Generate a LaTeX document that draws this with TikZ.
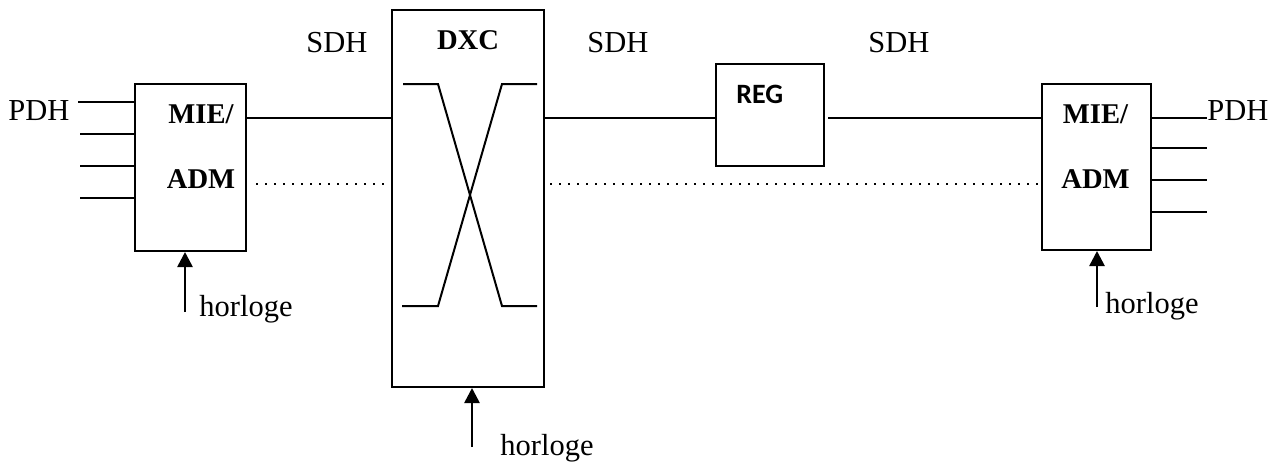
\documentclass[tikz,border=0pt]{standalone}
\usepackage{fontspec}
\setmainfont{Liberation Serif}
\newfontfamily\regfont{Carlito}
\usetikzlibrary{arrows.meta}
\begin{document}
\begin{tikzpicture}[x=0.5pt,y=-0.5pt,
  ln/.style={line width=1pt},
  dotln/.style={line width=1.2pt,dash pattern=on 1pt off 3.5pt},
  blk/.style={draw,line width=1pt,rectangle,inner sep=0pt},
  txt/.style={inner sep=0pt,font=\fontsize{15.25pt}{18pt}\selectfont},
  btxt/.style={inner sep=0pt,font=\fontsize{14.3pt}{17pt}\selectfont\bfseries},
  clk/.style={line width=1.3pt,-{Triangle[length=7.5pt,width=7.5pt]}}]
\useasboundingbox (0,0) rectangle (1284,461);
% boxes
\node[blk,minimum width=55.5pt,minimum height=83.5pt] (lb) at (190.5,167.5) {};
\node[blk,minimum width=76pt,minimum height=188.5pt] (dxc) at (468,198.5) {};
\node[blk,minimum width=54pt,minimum height=51pt] (reg) at (770,115) {};
\node[blk,minimum width=54.5pt,minimum height=83pt] (rb) at (1096.5,167) {};
% labels in boxes
\node[btxt,anchor=base] (lmie) at (201,123) {MIE/};
\node[btxt,anchor=base] (ladm) at (201,188) {ADM};
\node[btxt,anchor=base] (rmie) at (1095.5,123) {MIE/};
\node[btxt,anchor=base] (radm) at (1095.5,188) {ADM};
\node[btxt,anchor=base] (dxclab) at (468,49) {DXC};
\node[inner sep=0pt,anchor=base west,font=\fontsize{14pt}{16pt}\selectfont\regfont\bfseries] (reglab) at (736,103) {REG};
% SDH labels
\node[txt,anchor=base west] (sdh1) at (306,52) {SDH};
\node[txt,anchor=base west] (sdh2) at (587,52) {SDH};
\node[txt,anchor=base west] (sdh3) at (868,52) {SDH};
% PDH labels
\node[txt,anchor=base west] (pdhl) at (8,120) {PDH};
\node[txt,anchor=base west] (pdhr) at (1207,120) {PDH};
% horloge labels
\node[txt,anchor=base west] (hl) at (199,316) {horloge};
\node[txt,anchor=base west] (hm) at (500,455) {horloge};
\node[txt,anchor=base west] (hr) at (1105,313) {horloge};
% y levels
\coordinate (ys) at (0,118);
% solid links
\draw[ln] (lb.east |- ys) -- (dxc.west |- ys);
\draw[ln] (dxc.east |- ys) -- (reg.west |- ys);
\coordinate (regout) at (828,118);
\draw[ln] (regout) -- (rb.west |- ys);
% dotted links
\coordinate (d1a) at (256,184);
\coordinate (d1b) at (389,184);
\coordinate (d2a) at (550,184);
\coordinate (d2b) at (1038,184);
\draw[dotln] (d1a) -- (d1b);
\draw[dotln] (d2a) -- (d2b);
% PDH tributaries left
\coordinate (pl1) at (78,102);
\coordinate (pl2) at (80,134);
\coordinate (pl3) at (80,166);
\coordinate (pl4) at (80,198);
\foreach \p in {pl1,pl2,pl3,pl4} \draw[ln] (\p) -- (lb.west |- \p);
% PDH tributaries right
\coordinate (pr1) at (1207,118);
\coordinate (pr2) at (1207,148);
\coordinate (pr3) at (1207,180);
\coordinate (pr4) at (1207,212);
\foreach \p in {pr1,pr2,pr3,pr4} \draw[ln] (rb.east |- \p) -- (\p);
% cross inside DXC
\draw[ln] (403,84) -- (438,84) -- (502,306) -- (537,306);
\draw[ln] (537,84) -- (502,84) -- (438,306) -- (402,306);
% clock arrows
\coordinate (cl) at (185,312);
\coordinate (cm) at (472,447);
\coordinate (cr) at (1097,307);
\draw[clk] (cl) -- (cl |- lb.south);
\draw[clk] (cm) -- (cm |- dxc.south);
\draw[clk] (cr) -- (cr |- rb.south);
\end{tikzpicture}
\end{document}
